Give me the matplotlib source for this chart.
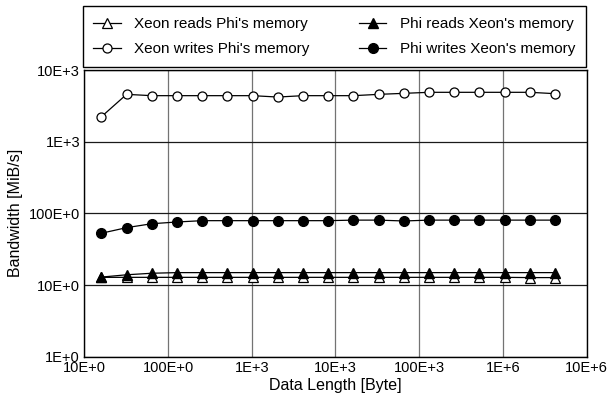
import matplotlib.pyplot as plt

plt.rcParams['font.family'] = ['Liberation Sans', 'DejaVu Sans']

# data length in bytes (16 B .. 4 MiB)
sizes = [2 ** k for k in range(4, 23)]

xeon_reads = [12.8, 12.8, 12.8, 12.8, 12.8, 12.8, 12.8, 12.8, 12.8, 12.8,
              12.8, 12.8, 12.8, 12.8, 12.8, 12.8, 12.8, 12.7, 12.7]
phi_reads = [12.9, 13.9, 14.6, 14.9, 14.9, 14.9, 14.9, 14.9, 14.9, 14.9,
             14.9, 14.9, 14.9, 14.9, 14.9, 14.9, 14.9, 14.9, 14.9]
xeon_writes = [2230, 4580, 4390, 4390, 4390, 4390, 4390, 4200, 4390, 4390,
               4390, 4580, 4730, 4890, 4890, 4890, 4890, 4890, 4680]
phi_writes = [52.8, 63.2, 71.7, 75.8, 79.1, 79.1, 79.1, 79.1, 79.1, 79.1,
              80.5, 80.5, 78.3, 80.5, 80.5, 80.5, 80.5, 80.5, 80.5]

xticks = [1e1, 1e2, 1e3, 1e4, 1e5, 1e6, 1e7]
xticklabels = ['10E+0', '100E+0', '1E+3', '10E+3', '100E+3', '1E+6', '10E+6']
yticks = [1e0, 1e1, 1e2, 1e3, 1e4]
yticklabels = ['1E+0', '10E+0', '100E+0', '1E+3', '10E+3']

fig = plt.figure(figsize=(6.09, 3.98), dpi=100)
ax = fig.add_axes([0.1384, 0.1038, 0.825, 0.7202])

l1, = ax.plot(sizes, xeon_reads, color='black', lw=0.9, marker='^', ms=6.5,
              mfc='white', mec='black', mew=0.9, label="Xeon reads Phi's memory")
l3, = ax.plot(sizes, phi_reads, color='black', lw=0.9, marker='^', ms=7,
              mfc='black', mec='black', label="Phi reads Xeon's memory")
l2, = ax.plot(sizes, xeon_writes, color='black', lw=0.9, marker='o', ms=6.5,
              mfc='white', mec='black', mew=0.9, label="Xeon writes Phi's memory")
l4, = ax.plot(sizes, phi_writes, color='black', lw=0.9, marker='o', ms=7,
              mfc='black', mec='black', label="Phi writes Xeon's memory")

ax.set_xscale('log')
ax.set_yscale('log')
ax.set_xlim(1e1, 1e7)
ax.set_ylim(1e0, 1e4)
ax.set_xticks(xticks)
ax.set_xticklabels(xticklabels)
ax.set_yticks(yticks)
ax.set_yticklabels(yticklabels)
ax.minorticks_off()
ax.tick_params(length=0, labelsize=10.5)
ax.tick_params(axis='x', pad=3)
ax.tick_params(axis='y', pad=3)
ax.xaxis.grid(True, color='0.45', lw=0.9)
ax.yaxis.grid(True, color='0.1', lw=0.9)
ax.set_axisbelow(True)
for s in ax.spines.values():
    s.set_linewidth(1.0)

ax.set_xlabel('Data Length [Byte]', fontsize=11.5, labelpad=2)
ax.set_ylabel('Bandwidth [MiB/s]', fontsize=11.5, labelpad=4)

leg = fig.legend(handles=[l1, l2, l3, l4], ncol=2, loc='center',
                 bbox_to_anchor=(0.123, 0.833, 0.852, 0.151), mode='expand',
                 fontsize=11, frameon=True, fancybox=False, edgecolor='black',
                 framealpha=1, handlelength=1.8, handletextpad=0.9,
                 borderpad=0.7, labelspacing=0.72, columnspacing=1.5)
leg.get_frame().set_linewidth(1.0)

fig.savefig('out.png', dpi=100)
